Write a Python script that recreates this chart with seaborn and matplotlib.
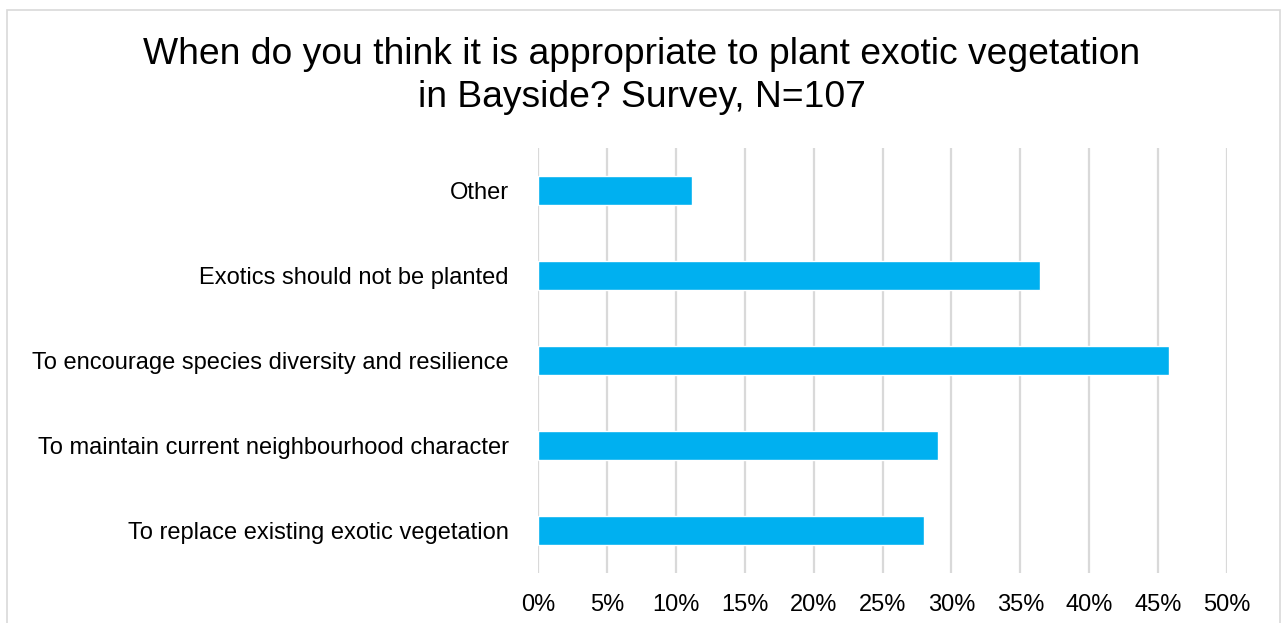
import matplotlib
matplotlib.use("Agg")
import matplotlib.pyplot as plt
from matplotlib.patches import Rectangle
from matplotlib.ticker import FuncFormatter
import seaborn as sns
import pandas as pd

# Survey responses (share of respondents, %)
categories = [
    "Other",
    "Exotics should not be planted",
    "To encourage species diversity and resilience",
    "To maintain current neighbourhood character",
    "To replace existing exotic vegetation",
]
shares = [11.2, 36.4, 45.8, 29.0, 28.0]
x_ticks = [0, 5, 10, 15, 20, 25, 30, 35, 40, 45, 50]

df = pd.DataFrame({"category": categories, "share": shares})

sns.set_theme(style="white")
plt.rcParams["font.family"] = ["Liberation Sans", "DejaVu Sans"]

W, H, DPI = 1284, 623, 100
fig = plt.figure(figsize=(W / DPI, H / DPI), dpi=DPI)
fig.patch.set_facecolor("white")

# axes placed in pixel terms
left, right, top, bottom = 538, 1227, 148, 573
ax = fig.add_axes([left / W, 1 - bottom / H, (right - left) / W, (bottom - top) / H])

sns.barplot(data=df, x="share", y="category", color="#00B0F0", saturation=1,
            width=0.35, ax=ax, orient="h")

ax.set_xlim(0, 50)
ax.set_xticks(x_ticks)
ax.xaxis.set_major_formatter(FuncFormatter(lambda v, p: f"{v:.0f}%"))
ax.grid(axis="x", color="#D9D9D9", linewidth=1.6)
ax.grid(axis="y", visible=False)
ax.set_axisbelow(True)
for s in ax.spines.values():
    s.set_visible(False)
ax.set_xlabel("")
ax.set_ylabel("")
ax.tick_params(axis="both", length=0, labelsize=17, colors="#000000")
ax.tick_params(axis="x", pad=15)
ax.tick_params(axis="y", pad=21)

fig.text(0.5, 1 - 76 / H,
         "When do you think it is appropriate to plant exotic vegetation\nin Bayside? Survey, N=107",
         ha="center", va="center", fontsize=26.8, linespacing=1.3, color="#000000")

# chart area frame
fig.patches.append(Rectangle((7 / W, -0.05), (1280 - 7) / W, 1.05 - 10 / H,
                             transform=fig.transFigure, fill=False,
                             edgecolor="#D9D9D9", linewidth=1.2))

fig.savefig("out.png", dpi=DPI, facecolor="white")
